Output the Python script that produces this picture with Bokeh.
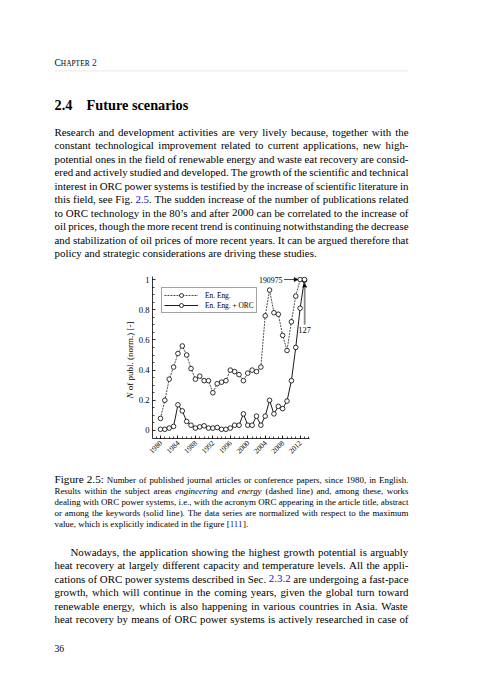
import math
from bokeh.plotting import figure
from bokeh.models import (ColumnDataSource, Range1d, FixedTicker, Legend, LegendItem,
                          Arrow, NormalHead)
from bokeh.core.properties import value
from bokeh.embed import file_html
from bokeh.resources import INLINE

# ---------------- chart data ----------------
years = list(range(1980, 2014))
en_eng = [0.08, 0.20, 0.34, 0.42, 0.51, 0.56, 0.50, 0.41, 0.34, 0.36,
          0.33, 0.33, 0.25, 0.31, 0.32, 0.33, 0.40, 0.39, 0.37, 0.33,
          0.38, 0.40, 0.39, 0.42, 0.76, 0.93, 0.78, 0.77, 0.63, 0.53,
          0.72, 0.89, 1.00, 0.995]
en_eng_orc = [0.008, 0.008, 0.016, 0.027, 0.17, 0.13, 0.06, 0.035, 0.016, 0.024,
              0.031, 0.016, 0.016, 0.02, 0.008, 0.008, 0.016, 0.035, 0.035, 0.11,
              0.035, 0.035, 0.095, 0.035, 0.095, 0.20, 0.11, 0.16, 0.145, 0.195,
              0.33, 0.55, 0.81, 1.00]
series_names = ["En. Eng.", "En. Eng. + ORC"]
max_values = ["190975", "127"]
x_tick_values = [1980, 1984, 1988, 1992, 1996, 2000, 2004, 2008, 2012]
x_tick_labels = ["1980", "1984", "1988", "1992", "1996", "2000", "2004", "2008", "2012"]
x_minor_ticks = list(range(1979, 2015))
y_tick_values = [0, 0.2, 0.4, 0.6, 0.8, 1.0]
y_tick_labels = ["0", "0.2", "0.4", "0.6", "0.8", "1"]
y_minor_ticks = [0.05, 0.1, 0.15, 0.25, 0.3, 0.35, 0.45, 0.5, 0.55, 0.65, 0.7, 0.75, 0.85, 0.9, 0.95]
y_label_italic = "N"
y_label_rest = "of publ. (norm.) [-]"

# ---------------- page text ----------------
header_parts = ["C", "HAPTER", "2"]
section_number = "2.4"
section_title = "Future scenarios"
para1 = [
    "Research and development activities are very lively because, together with the",
    "constant technological improvement related to current applications, new high-",
    "potential ones in the field of renewable energy and waste eat recovery are consid-",
    "ered and actively studied and developed. The growth of the scientific and technical",
    "interest in ORC power systems is testified by the increase of scientific literature in",
    "this field, see Fig. {2.5}. The sudden increase of the number of publications related",
    "to ORC technology in the 80\u2019s and after 2000 can be correlated to the increase of",
    "oil prices, though the more recent trend is continuing notwithstanding the decrease",
    "and stabilization of oil prices of more recent years. It can be argued therefore that",
    "policy and strategic considerations are driving these studies.",
]
caption_tag = "Figure 2.5:"
caption = [
    "Number of published journal articles or conference papers, since 1980, in English.",
    "Results within the subject areas _engineering_ and _energy_ (dashed line) and, among these, works",
    "dealing with ORC power systems, i.e., with the acronym ORC appearing in the article title, abstract",
    "or among the keywords (solid line). The data series are normalized with respect to the maximum",
    "value, which is explicitly indicated in the figure [{111}].",
]
para2 = [
    "Nowadays, the application showing the highest growth potential is arguably",
    "heat recovery at largely different capacity and temperature levels. All the appli-",
    "cations of ORC power systems described in Sec. {2.3.2} are undergoing a fast-pace",
    "growth, which will continue in the coming years, given the global turn toward",
    "renewable energy, which is also happening in various countries in Asia. Waste",
    "heat recovery by means of ORC power systems is actively researched in case of",
]
page_number = "36"

SERIF = "Liberation Serif"
BLUE = "#1010d0"

# Times-compatible advance widths (1/1000 em)
_REG = {' ': 250, '!': 333, '"': 408, "'": 180, '\u2019': 333, '(': 333, ')': 333, '+': 564,
        ',': 250, '-': 333, '.': 250, '/': 278, ':': 278, ';': 278, '?': 444, '[': 333, ']': 333,
        'A': 722, 'B': 667, 'C': 667, 'D': 722, 'E': 611, 'F': 556, 'G': 722, 'H': 722, 'I': 333,
        'J': 389, 'K': 722, 'L': 611, 'M': 889, 'N': 722, 'O': 722, 'P': 556, 'Q': 722, 'R': 667,
        'S': 556, 'T': 611, 'U': 722, 'V': 722, 'W': 944, 'X': 722, 'Y': 722, 'Z': 611,
        'a': 444, 'b': 500, 'c': 444, 'd': 500, 'e': 444, 'f': 333, 'g': 500, 'h': 500, 'i': 278,
        'j': 278, 'k': 500, 'l': 278, 'm': 778, 'n': 500, 'o': 500, 'p': 500, 'q': 500, 'r': 333,
        's': 389, 't': 278, 'u': 500, 'v': 500, 'w': 722, 'x': 500, 'y': 500, 'z': 444}
_ITA = dict(_REG)
_ITA.update({'a': 500, 'b': 500, 'c': 444, 'd': 500, 'e': 444, 'f': 278, 'g': 500, 'h': 500,
             'i': 278, 'k': 444, 'm': 722, 'r': 389, 's': 389, 'v': 444, 'w': 667, 'x': 444,
             'y': 444, 'z': 389, 'N': 667})

# Bokeh's alphabetic baseline sits lower than the page's; lift page text by this share of its size
LIFT = 0.4


def seg_width(text, size, italic=False):
    table = _ITA if italic else _REG
    return sum(table.get(ch, 500) for ch in text) * size / 1000.0


def parse_words(line, size):
    words = []
    for raw in line.split(" "):
        segs = []
        buf = ""
        color = "black"
        style = "normal"
        for ch in raw:
            if ch in "{}_":
                if buf:
                    segs.append((buf, color, style, size))
                buf = ""
                if ch == "{":
                    color = BLUE
                elif ch == "}":
                    color = "black"
                else:
                    style = "italic" if style == "normal" else "normal"
            else:
                buf += ch
        if buf:
            segs.append((buf, color, style, size))
        words.append(segs)
    return words


def new_rows():
    return {"x": [], "y": [], "text": [], "color": [], "style": [], "size": [], "angle": [],
            "baseline": [], "align": []}


def put(rows, text, x, y, size, color="black", style="normal", angle=0.0,
        baseline="alphabetic", align="left"):
    rows["x"].append(x)
    rows["y"].append(y)
    rows["text"].append(text)
    rows["color"].append(color)
    rows["style"].append(style)
    rows["size"].append("%.2fpx" % size)
    rows["angle"].append(angle)
    rows["baseline"].append(baseline)
    rows["align"].append(align)


def put_page(rows, text, x, y, size, color="black", style="normal"):
    put(rows, text, x, y - LIFT * size, size, color, style)


def set_words(rows, words, x0, x1, y, justify):
    widths = [sum(seg_width(s[0], s[3], s[2] == "italic") for s in w) for w in words]
    base = words[-1][0][3]
    if justify and len(words) > 1:
        gap = (x1 - x0 - sum(widths)) / (len(words) - 1)
    else:
        gap = 0.25 * base
    x = x0
    for w, wd in zip(words, widths):
        xx = x
        for text, color, style, size in w:
            put_page(rows, text, xx, y, size, color, style)
            xx += seg_width(text, size, style == "italic")
        x += wd + gap


# ---------------- page geometry (page pixels) ----------------
W, H = 474, 672
FL, FR, FT, FB = 152, 309, 276, 438      # chart frame edges on the page
LX0, LX1 = 54, 408
BODY = 10.9
CAP = 8.9

page_rows = new_rows()
put_page(page_rows, header_parts[0], 54, 66.0, 9.5)
put_page(page_rows, header_parts[1], 54 + seg_width("C", 9.5), 66.0, 7.4)
put_page(page_rows, header_parts[2], 54 + seg_width("C", 9.5) + seg_width("HAPTER", 7.4) + 2.4, 66.0, 9.5, BLUE)
put_page(page_rows, section_number, 54, 110.3, 14.3, style="bold")
put_page(page_rows, section_title, 86, 110.3, 14.3, style="bold")
for i, line in enumerate(para1):
    set_words(page_rows, parse_words(line, BODY), LX0, LX1, 135.5 + 13.5 * i, i < len(para1) - 1)
cap_words = parse_words(caption_tag, 11.2) + parse_words(caption[0], CAP)
set_words(page_rows, cap_words, LX0, LX1, 482.9, True)
for i, line in enumerate(caption[1:], start=1):
    set_words(page_rows, parse_words(line, CAP), LX0, LX1, 482.9 + 10.95 * i, i < len(caption) - 1)
for i, line in enumerate(para2):
    set_words(page_rows, parse_words(line, BODY), LX0 + (16 if i == 0 else 0), LX1, 555.5 + 13.5 * i, True)
put_page(page_rows, page_number, 54, 651.5, 9.6)

# ---------------- figure: frame = chart area ----------------
p = figure(width=W, height=H, x_range=Range1d(1978.17, 2014.15), y_range=Range1d(-0.053, 1.02),
           output_backend="svg", toolbar_location=None,
           min_border_left=FL, min_border_right=W - FR, min_border_top=FT, min_border_bottom=H - FB)
p.outline_line_color = None
p.grid.visible = False
p.background_fill_color = "white"
p.border_fill_color = "white"
p.extra_x_ranges = {"px": Range1d(FL, FR)}
p.extra_y_ranges = {"py": Range1d(FB, FT)}

src = ColumnDataSource(dict(year=years, eng=en_eng, orc=en_eng_orc))
l1 = p.line("year", "eng", source=src, line_color="black", line_width=0.7, line_dash="2 1")
s1 = p.scatter("year", "eng", source=src, marker="circle", size=4.6,
               fill_color="white", line_color="black", line_width=0.8)
l2 = p.line("year", "orc", source=src, line_color="black", line_width=0.9)
s2 = p.scatter("year", "orc", source=src, marker="circle", size=4.6,
               fill_color="white", line_color="black", line_width=0.8)

xa = p.xaxis[0]
xa.ticker = FixedTicker(ticks=x_tick_values, minor_ticks=x_minor_ticks)
xa.major_label_overrides = {v: t for v, t in zip(x_tick_values, x_tick_labels)}
xa.major_label_orientation = math.pi / 4
ya = p.yaxis[0]
ya.ticker = FixedTicker(ticks=y_tick_values, minor_ticks=y_minor_ticks)
ya.major_label_overrides = {v: t for v, t in zip(y_tick_values, y_tick_labels)}
for ax, fs in ((xa, "7.4px"), (ya, "8.6px")):
    ax.major_tick_in = 3
    ax.major_tick_out = 0
    ax.minor_tick_in = 2
    ax.minor_tick_out = 0
    ax.axis_line_width = 0.8
    ax.major_tick_line_width = 0.8
    ax.minor_tick_line_width = 0.7
    ax.major_label_text_font = SERIF
    ax.major_label_text_font_size = fs
    ax.major_label_text_color = "black"
    ax.major_label_standoff = 3

legend = Legend(items=[LegendItem(label=series_names[0], renderers=[l1, s1]),
                       LegendItem(label=series_names[1], renderers=[l2, s2])],
                location=(9, 125), padding=2, spacing=0, margin=0,
                glyph_width=34, glyph_height=10, label_height=10, label_standoff=7,
                label_text_font=SERIF, label_text_font_size="7.4px", label_text_color="black",
                border_line_color="#444444", border_line_width=0.8,
                background_fill_color="white", background_fill_alpha=1)
p.add_layout(legend)

p.add_layout(Arrow(end=NormalHead(size=4, fill_color="black", line_color="black", line_width=0.5),
                   x_start=2008.3, y_start=1.0, x_end=2011.55, y_end=1.0,
                   line_color="black", line_width=0.7))
p.add_layout(Arrow(end=NormalHead(size=4, fill_color="black", line_color="black", line_width=0.5),
                   x_start=2013.05, y_start=0.70, x_end=2013.05, y_end=0.975,
                   line_color="#8a8a8a", line_width=1.8))

# chart annotation texts (chart coordinates)
ann_rows = new_rows()
put(ann_rows, max_values[0], 2007.95, 1.0, 7.8, baseline="middle", align="right")
put(ann_rows, max_values[1], 2011.6, 0.665, 8.4, baseline="middle")
put(ann_rows, y_label_italic, 1973.1, 0.212, 9.0, style="italic", angle=math.pi / 2, baseline="middle")
put(ann_rows, y_label_rest, 1973.1, 0.267, 9.0, angle=math.pi / 2, baseline="middle")
ann_r = p.text(x="x", y="y", text="text", source=ColumnDataSource(ann_rows),
               text_color="color", text_font_style="style", text_font_size="size",
               angle="angle", text_baseline="baseline", text_align="align",
               text_font=value(SERIF))
ann_r.level = "overlay"

# page texts (page pixel coordinates)
page_r = p.text(x="x", y="y", text="text", source=ColumnDataSource(page_rows),
                x_range_name="px", y_range_name="py",
                text_color="color", text_font_style="style", text_font_size="size",
                text_font=value(SERIF), text_align="left", text_baseline="alphabetic")
page_r.level = "overlay"
rule = p.segment(x0=[54], y0=[70.4], x1=[408], y1=[70.4], x_range_name="px", y_range_name="py",
                 line_color="#d8d8d8", line_width=0.6)
rule.level = "overlay"

open("out.html", "w").write(file_html(p, INLINE))
